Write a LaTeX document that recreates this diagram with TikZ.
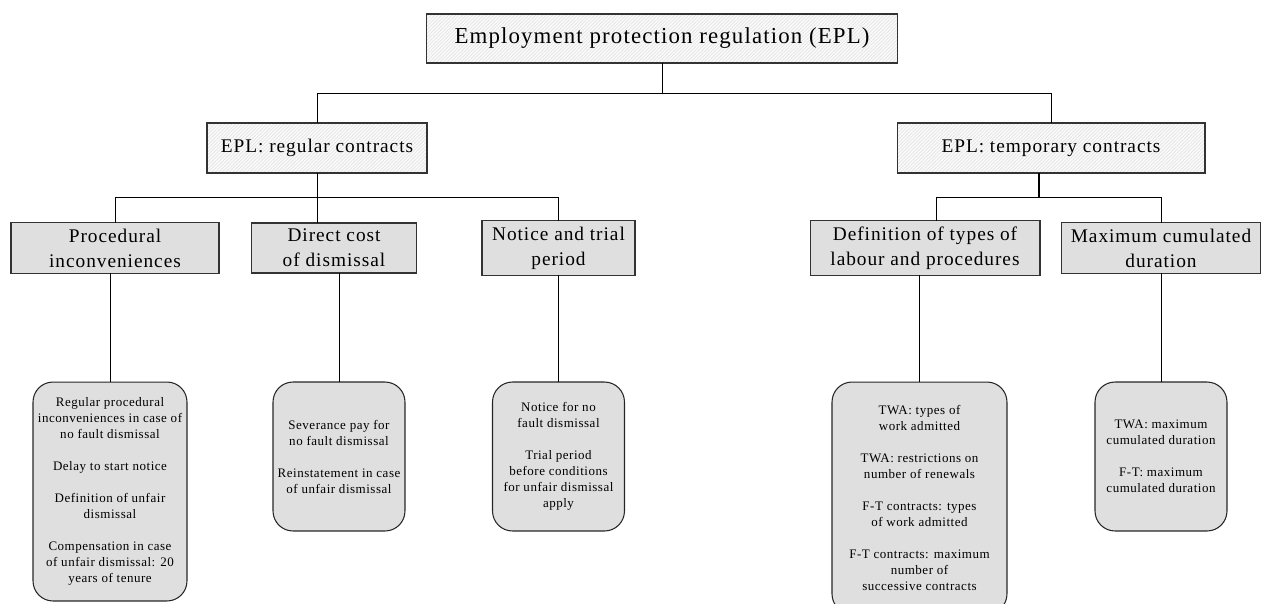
\documentclass[tikz,border=0pt]{standalone}
\usepackage{fontspec}
\setmainfont{Liberation Serif}
\newfontfamily\spacedfont[LetterSpace=5]{Liberation Serif}
\newfontfamily\smallfont[LetterSpace=4]{Liberation Serif}
\usepackage{tikz}
\usetikzlibrary{patterns.meta,calc}

\begin{document}
\begin{tikzpicture}[x=0.02cm, y=-0.02cm, line width=0.5pt,
    hatchbox/.style={draw=black!80, line width=0.6pt, outer sep=0pt, minimum height=1cm,
        preaction={fill=gray!5},
        pattern={Lines[angle=45, distance=1.4pt, line width=0.2pt]}, pattern color=gray!30,
        font=\spacedfont\fontsize{11}{14.2}\selectfont},
    graybox/.style={draw=black!80, line width=0.6pt, outer sep=0pt, fill=gray!25, minimum height=1cm,
        align=center, font=\spacedfont\fontsize{11}{14.2}\selectfont},
    roundbox/.style={draw=black!85, line width=0.6pt, outer sep=0pt, fill=gray!25, rounded corners=0.4cm,
        inner sep=1pt, align=center, font=\smallfont\fontsize{7.4}{9.1}\selectfont}]
    \useasboundingbox (0,0) rectangle (1262,603);

    % Caja principal y los dos tipos de contrato
    \node[hatchbox, minimum width=9.41cm, minimum height=0.98cm, font=\spacedfont\fontsize{13}{15}\selectfont] (epl) at (662,38.5) {Employment protection regulation (EPL)};
    \node[hatchbox, minimum width=4.4cm] (regular) at (317,148) {EPL: regular contracts};
    \node[hatchbox, minimum width=6.16cm] (temporary) at (1051,148) {EPL: temporary contracts};

    % Componentes
    \node[graybox, minimum width=4.16cm] (proc) at (115,248) {Procedural\\inconveniences};
    \node[graybox, minimum width=3.3cm] (cost) at (334,248) {Direct cost\\of dismissal};
    \node[graybox, minimum width=3.06cm] (notice) at (558.5,248) {Notice and trial\\period};
    \node[graybox, minimum width=4.6cm] (types) at (925,248) {Definition of types of\\labour and procedures};
    \node[graybox, minimum width=3.98cm] (maxdur) at (1161,248) {Maximum cumulated\\duration};

    % Indicadores
    \node[roundbox, minimum width=3.08cm, minimum height=4.38cm] (procitems) at (110,491.5) {Regular procedural\\inconveniences in case of\\no fault dismissal\\[9.1pt]Delay to start notice\\[9.1pt]Definition of unfair\\dismissal\\[9.1pt]Compensation in case\\of unfair dismissal: 20\\years of tenure};
    \node[roundbox, minimum width=2.64cm, minimum height=2.98cm] (costitems) at (339,456.5) {Severance pay for\\no fault dismissal\\[9.1pt]Reinstatement in case\\of unfair dismissal};
    \node[roundbox, minimum width=2.64cm, minimum height=2.98cm] (noticeitems) at (558.5,456.5) {Notice for no\\fault dismissal\\[9.1pt]Trial period\\before conditions\\for unfair dismissal\\apply};
    \node[roundbox, minimum width=3.5cm, minimum height=4.64cm] (typesitems) at (919.5,498) {TWA: types of\\work admitted\\[9.1pt]TWA: restrictions on\\number of renewals\\[9.1pt]F-T contracts: types\\of work admitted\\[9.1pt]F-T contracts: maximum\\number of\\successive contracts};
    \node[roundbox, minimum width=2.64cm, minimum height=2.98cm] (maxitems) at (1161,456.5) {TWA: maximum\\cumulated duration\\[9.1pt]F-T: maximum\\cumulated duration};

    % Lineas del primer nivel
    \coordinate (lvla) at (662,93.5);
    \draw (epl.south) -- (lvla);
    \draw (regular.north) |- (lvla) -| (temporary.north);

    % Lineas bajo los contratos regulares
    \coordinate (lvlb) at (317,197.5);
    \draw (regular.south) -- (regular.south |- cost.north);
    \draw (proc.north) |- (lvlb) -| (notice.north);

    % Lineas bajo los contratos temporales
    \coordinate (lvlc) at (1039,197.5);
    \draw[line width=1.1pt] (lvlc |- temporary.south) -- (lvlc);
    \draw ($(types.north)+(11,0)$) |- (lvlc) -| (maxdur.north);

    % Lineas hacia los indicadores
    \draw (procitems.north) -- (procitems.north |- proc.south);
    \draw (costitems.north) -- (costitems.north |- cost.south);
    \draw (noticeitems.north) -- (noticeitems.north |- notice.south);
    \draw (typesitems.north) -- (typesitems.north |- types.south);
    \draw (maxitems.north) -- (maxitems.north |- maxdur.south);
\end{tikzpicture}
\end{document}
